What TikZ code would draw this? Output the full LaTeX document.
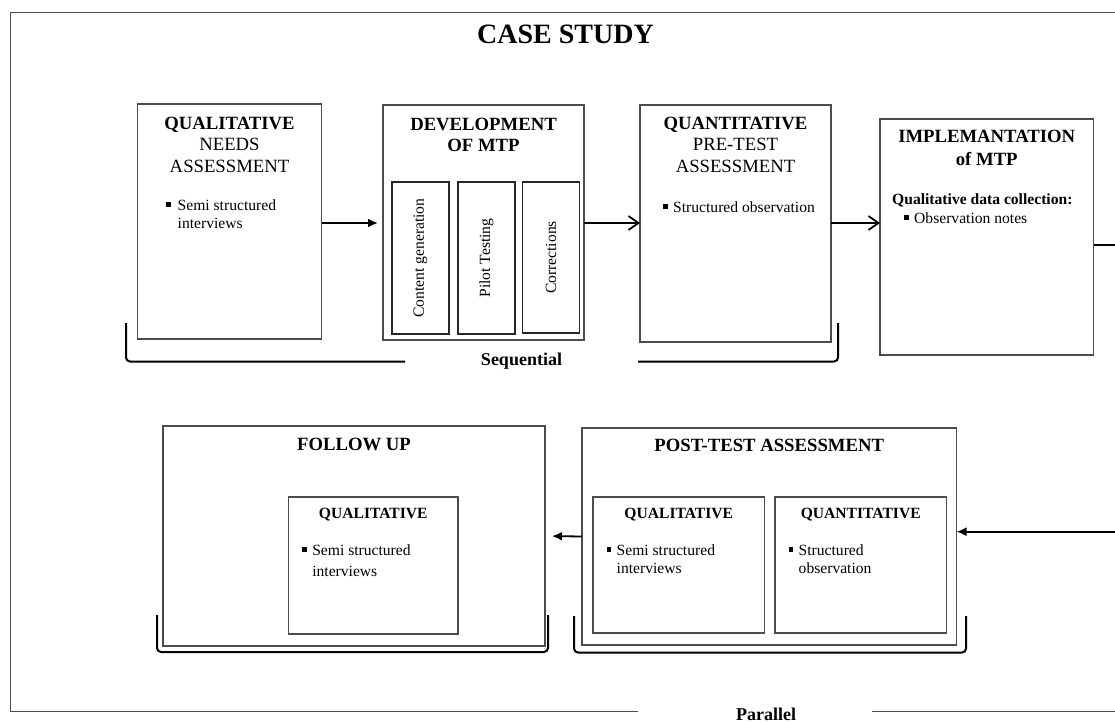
\documentclass[tikz,border=0pt]{standalone}
\usepackage{fontspec}
\setmainfont{Liberation Serif}
\usetikzlibrary{arrows.meta, positioning}
\def\FrameColor{black!70}
\newcommand{\bul}[1][10pt]{\makebox[#1][l]{\rule[0.22em]{0.28em}{0.28em}}}
\newcommand{\hdfont}{\fontsize{18.7}{21.5}\selectfont}
\newcommand{\txfont}{\fontsize{15.6}{18}\selectfont}

\begin{document}
\begin{tikzpicture} [x=1pt, y=-1pt,
    box/.style = {draw=\FrameColor, line width=1.2pt, anchor=north west, inner sep=0pt, outer sep=0pt},
    subbox/.style = {draw=black!85, line width=1.1pt, anchor=north west, inner sep=0pt, outer sep=0pt, minimum width=57pt, minimum height=152pt},
    head/.style = {anchor=base, inner sep=0pt, align=center, font=\hdfont},
    subhead/.style = {anchor=base, inner sep=0pt, font=\txfont\bfseries},
    bullets/.style = {anchor=base west, inner sep=0pt, align=left, font=\txfont},
    brace/.style = {draw, line width=2pt, rounded corners=4pt},
    fwdarrow/.style = {draw, line width=1.8pt, -{Latex[length=10pt,width=9pt]}},
    barbarrow/.style = {draw, line width=1.8pt, -{Straight Barb[length=10pt,width=14pt]}}
    ]
  \useasboundingbox (0,0) rectangle (1115,722);

  %%% FRAME %%%
  \draw[\FrameColor, line width=1.2pt] (1115,12.3) -- (10.7,12.3) -- (10.7,711.5) -- (638,711.5);
  \draw[\FrameColor, line width=1.2pt] (871.5,711.5) -- (1115,711.5);
  \node[anchor=base, inner sep=0pt, font=\fontsize{28}{32}\selectfont\bfseries] (title) at (565.5,44) {CASE STUDY};

  %%% QUALITATIVE NEEDS ASSESSMENT %%%
  \node[box, minimum width=184pt, minimum height=235pt] (needs) at (137.5,104) {};
    % text labels (base = last line)
    \node[head] (needshead) at ([yshift=-68pt]needs.north) {\textbf{QUALITATIVE}\\NEEDS\\ASSESSMENT};
    \node[bullets] (needsitem) at ([xshift=28.5pt,yshift=-124pt]needs.north west) {\bul[11.5pt]Semi structured\\\hspace*{11.5pt}interviews};

  %%% DEVELOPMENT OF MTP %%%
  \node[box, minimum width=201pt, minimum height=235pt] (dev) at (383,105) {};
    % text labels
    \node[head] (devhead) at ([yshift=-47pt]dev.north) {\textbf{DEVELOPMENT}\\\textbf{OF MTP}};
    \node[subbox] (content) at ([xshift=9pt,yshift=-77pt]dev.north west) {};
    \node[subbox] (pilot) at ([xshift=75pt,yshift=-77pt]dev.north west) {};
    \node[subbox, minimum height=151pt] (corr) at ([xshift=139.5pt,yshift=-77pt]dev.north west) {};
    \node[rotate=90, font=\txfont] (contenttext) at (content.center) {Content generation};
    \node[rotate=90, font=\txfont] (pilottext) at (pilot.center) {Pilot Testing};
    \node[rotate=90, font=\txfont] (corrtext) at (corr.center) {Corrections};

  %%% QUANTITATIVE PRE-TEST ASSESSMENT %%%
  \node[box, minimum width=191pt, minimum height=237pt] (quant) at (640,105) {};
    % text labels
    \node[head] (quanthead) at ([yshift=-67pt]quant.north) {\textbf{QUANTITATIVE}\\PRE-TEST\\ASSESSMENT};
    \node[bullets] (quantitem) at ([xshift=23pt,yshift=-107pt]quant.north west) {\bul Structured observation};

  %%% IMPLEMANTATION of MTP %%%
  \node[box, minimum width=213.5pt, minimum height=236pt] (impl) at (880,119) {};
    % text labels
    \node[head, font=\fontsize{18.7}{22}\selectfont\bfseries] (implhead) at ([yshift=-46pt]impl.north) {IMPLEMANTATION\\of MTP};
    \node[bullets, font=\fontsize{15.6}{19}\selectfont] (implitem) at ([xshift=12pt,yshift=-104pt]impl.north west) {\textbf{Qualitative data collection:}\\\hspace*{12pt}\bul Observation notes};

  %%% FOLLOW UP %%%
  \node[box, minimum width=382pt, minimum height=220pt] (followup) at (163,426) {};
    % text labels
    \node[head, font=\hdfont\bfseries] (followhead) at ([yshift=-24pt]followup.north) {FOLLOW UP};
    \node[box, minimum width=169.4pt, minimum height=137pt] (fuqual) at (288.6,497) {};
    \node[subhead] (fuqualhead) at ([yshift=-21pt]fuqual.north) {QUALITATIVE};
    \node[bullets, font=\fontsize{15.6}{21}\selectfont] (fuqualitem) at ([xshift=13.5pt,yshift=-79pt]fuqual.north west) {\bul Semi structured\\\hspace*{10pt}interviews};

  %%% POST-TEST ASSESSMENT %%%
  \node[box, minimum width=374.5pt, minimum height=217pt] (posttest) at (582,428) {};
    % text labels
    \node[head, font=\hdfont\bfseries] (posthead) at ([yshift=-23pt]posttest.north) {POST-TEST ASSESSMENT};
    \node[box, minimum width=171.6pt, minimum height=136pt] (ptqual) at (593,497) {};
    \node[subhead] (ptqualhead) at ([yshift=-21pt]ptqual.north) {QUALITATIVE};
    \node[bullets] (ptqualitem) at ([xshift=13.5pt,yshift=-76pt]ptqual.north west) {\bul Semi structured\\\hspace*{10pt}interviews};
    \node[box, minimum width=171.5pt, minimum height=136pt] (ptquant) at (775,497) {};
    \node[subhead] (ptquanthead) at ([yshift=-21pt]ptquant.north) {QUANTITATIVE};
    \node[bullets] (ptquantitem) at ([xshift=13.5pt,yshift=-76pt]ptquant.north west) {\bul Structured\\\hspace*{10pt}observation};

  %%% BRACKETS %%%
  \draw[brace] (126,323) -- (126,361.5) -- (405,361.5);
  \draw[brace] (638,361.5) -- (838,361.5) -- (838,323);
  \node[anchor=base, inner sep=0pt, font=\fontsize{18}{20}\selectfont\bfseries] (sequential) at (521.5,365) {Sequential};
  \draw[brace] (157,615) -- (157,652) -- (548,652) -- (548,615);
  \draw[brace] (574,616) -- (574,652.5) -- (966,652.5) -- (966,616);
  \node[anchor=base, inner sep=0pt, font=\fontsize{18}{20}\selectfont\bfseries] (parallel) at (766,720) {Parallel};

  % Edges
  \coordinate (toprow) at (0,223);
  \coordinate (implout) at (1115,245);
  \coordinate (postin) at (1115,531.7);

  \path (toprow -| needs.east) edge[fwdarrow, shorten >=5pt] (toprow -| dev.west);
  \path (toprow -| dev.east) edge[barbarrow] (toprow -| quant.west);
  \path (toprow -| quant.east) edge[barbarrow] (toprow -| impl.west);
  \path (implout -| impl.east) edge[line width=1.8pt] (implout);
  \path (postin) edge[fwdarrow] (postin -| posttest.east);
  \path (posttest.west) edge[fwdarrow, shorten >=7pt] (followup.east);

\end{tikzpicture}
\end{document}
